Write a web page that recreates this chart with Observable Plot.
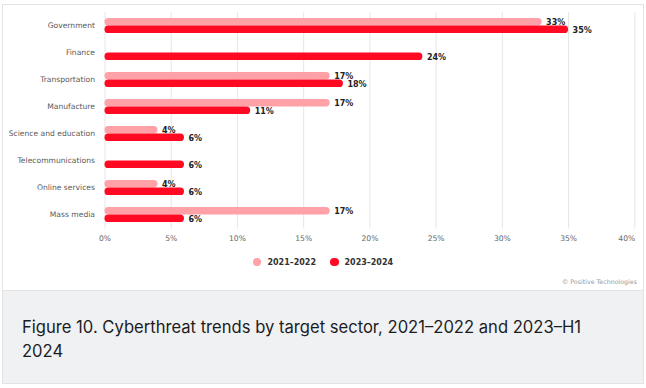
<!DOCTYPE html>
<html>
<head>
<meta charset="utf-8">
<script src="https://cdn.jsdelivr.net/npm/d3@7"></script>
<script src="https://cdn.jsdelivr.net/npm/@observablehq/plot@0.6"></script>
<style>
  html, body { margin: 0; padding: 0; background: #fff; }
  #card { position: absolute; left: 2px; top: 4px; width: 640px; height: 378px; border: 1px solid #e3e3e3; background: #fff; }
  #chart { height: 249px; }
  #legend { height: 16px; display: flex; justify-content: center; align-items: center; font-family: "DejaVu Sans", sans-serif; font-size: 8px; font-weight: bold; color: #333; }
  .item { display: flex; align-items: center; margin: 0 7px; }
  .dot { width: 8.5px; height: 8.5px; border-radius: 50%; margin-right: 6px; }
  #credit { position: absolute; right: 6px; top: 273px; font-family: "DejaVu Sans", sans-serif; font-size: 6.3px; color: #999; }
  #caption { position: absolute; left: 0; top: 285px; width: 640px; height: 93px; background: #f0f1f3; border-top: 1px solid #e3e3e3; box-sizing: border-box; padding: 24px 19px 0 19px; font-family: Inter, sans-serif; font-size: 16.6px; line-height: 24px; color: #1d1d1f; }
</style>
</head>
<body>
<div id="card">
  <div id="chart"></div>
  <div id="legend"></div>
  <div id="credit">© Positive Technologies</div>
  <div id="caption">Figure 10. Cyberthreat trends by target sector, 2021–2022 and 2023–H1<br>2024</div>
</div>
<script>
const categories = ["Government", "Finance", "Transportation", "Manufacture", "Science and education", "Telecommunications", "Online services", "Mass media"];
const values2021 = [33, null, 17, 17, 4, null, 4, 17];
const values2023 = [35, 24, 18, 11, 6, 6, 6, 6];
const seriesNames = ["2021–2022", "2023–2024"];
const seriesColors = ["#ffa1a6", "#ff0a22"];
const xTicks = [0, 5, 10, 15, 20, 25, 30, 35, 40];

const d1 = categories.map((c, i) => ({category: c, value: values2021[i]})).filter(d => d.value != null);
const d2 = categories.map((c, i) => ({category: c, value: values2023[i]}));

const fmt = d => d + "%";
const chart = Plot.plot({
  width: 640,
  height: 249,
  marginLeft: 101.5,
  marginRight: 8.7,
  marginTop: 7.2,
  marginBottom: 25.5,
  style: {fontFamily: "DejaVu Sans, sans-serif", background: "transparent", overflow: "visible"},
  x: {domain: [0, 40], axis: null},
  y: {domain: categories, padding: 0, label: null},
  marks: [
    Plot.ruleX(xTicks, {stroke: "#e6e6e6", strokeWidth: 1}),
    Plot.axisY({tickSize: 0, tickPadding: 10, fontSize: 7.6, fill: "#5a5a5a", label: null}),
    Plot.text(xTicks.slice(0, -1), {x: d => d, text: fmt, frameAnchor: "bottom", dy: 12, fontSize: 7.6, fill: "#666"}),
    Plot.text(xTicks.slice(-1), {x: d => d, text: fmt, frameAnchor: "bottom", dy: 12, dx: -8, fontSize: 7.6, fill: "#666"}),
    Plot.barX(d1, {x: "value", y: "category", insetTop: 6, insetBottom: 13.5, rx: 3.7, fill: seriesColors[0]}),
    Plot.barX(d2, {x: "value", y: "category", insetTop: 13.6, insetBottom: 5.9, rx: 3.7, fill: seriesColors[1]}),
    Plot.text(d1, {x: "value", y: "category", text: d => fmt(d.value), dx: 4, dy: -3.3, textAnchor: "start", fontSize: 8, fontWeight: "bold", fill: "#222"}),
    Plot.text(d2, {x: "value", y: "category", text: d => fmt(d.value), dx: 4, dy: 4.7, textAnchor: "start", fontSize: 8, fontWeight: "bold", fill: "#222"})
  ]
});
document.getElementById("chart").appendChild(chart);

const legend = document.getElementById("legend");
seriesNames.forEach((n, i) => {
  const item = document.createElement("div");
  item.className = "item";
  item.innerHTML = `<span class="dot" style="background:${seriesColors[i]}"></span><span>${n}</span>`;
  legend.appendChild(item);
});
</script>
</body>
</html>
